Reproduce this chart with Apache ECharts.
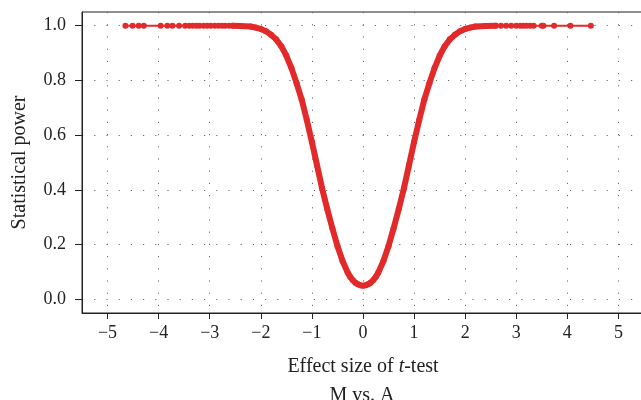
<!DOCTYPE html>
<html>
<head>
<meta charset="utf-8">
<script src="https://cdn.jsdelivr.net/npm/echarts@6/dist/echarts.min.js"></script>
<style>
html,body{margin:0;padding:0;background:#fff;}
#c{width:641px;height:400px;}
</style>
</head>
<body>
<div id="c"></div>
<script>
// Effect size (x) and statistical power (y)
const effectSize = [
  -4.65, -4.51, -4.39, -4.29, -3.96, -3.83, -3.73, -3.60, -3.48, -3.40, -3.33, -3.26, -3.20,
  -3.12, -3.05, -2.98, -2.90, -2.83, -2.76, -2.70, -2.62, -2.55, -2.40, -2.20, -2.10, -2.00,
  -1.90, -1.80, -1.70, -1.60, -1.50, -1.40, -1.30, -1.20, -1.10, -1.00, -0.90, -0.80, -0.70,
  -0.60, -0.50, -0.40, -0.30, -0.25, -0.20, -0.15, -0.10, -0.05, 0.00, 0.05, 0.10, 0.15, 0.20,
  0.25, 0.30, 0.40, 0.50, 0.60, 0.70, 0.80, 0.90, 1.00, 1.10, 1.20, 1.30, 1.40, 1.50, 1.60,
  1.70, 1.80, 1.90, 2.00, 2.10, 2.20, 2.40, 2.60, 2.70, 2.80, 2.90, 3.00, 3.08, 3.14, 3.20,
  3.27, 3.34, 3.50, 3.53, 3.74, 4.06, 4.46
];
const power = [
  1.000, 1.000, 1.000, 1.000, 1.000, 1.000, 1.000, 1.000, 1.000, 1.000, 1.000, 1.000, 1.000,
  1.000, 1.000, 1.000, 1.000, 1.000, 1.000, 1.000, 1.000, 1.000, 0.999, 0.997, 0.993, 0.988,
  0.980, 0.967, 0.950, 0.925, 0.890, 0.845, 0.790, 0.730, 0.655, 0.575, 0.490, 0.405, 0.330,
  0.260, 0.195, 0.140, 0.098, 0.082, 0.070, 0.061, 0.055, 0.051, 0.050, 0.051, 0.055, 0.061, 0.070,
  0.082, 0.098, 0.140, 0.195, 0.260, 0.330, 0.405, 0.490, 0.575, 0.655, 0.730, 0.790, 0.845, 0.890, 0.925,
  0.950, 0.967, 0.980, 0.988, 0.993, 0.997, 0.999, 1.000, 1.000, 1.000, 1.000, 1.000, 1.000, 1.000, 1.000,
  1.000, 1.000, 1.000, 1.000, 1.000, 1.000, 1.000
];
const xTicks = [-5, -4, -3, -2, -1, 0, 1, 2, 3, 4, 5];
const yTicks = [0, 0.2, 0.4, 0.6, 0.8, 1.0];

const allPts = effectSize.map((x, i) => [x, power[i]]);
const midPts = allPts.filter(p => p[0] >= -2.6 && p[0] <= 2.6);

const FONT = '"Liberation Serif", "DejaVu Serif", serif';
const RED = '#e22a2b';
const INK = '#222';
const dotted = { color: '#6a6a6a', width: 1, type: [1.2, 11] };

const chart = echarts.init(document.getElementById('c'), null, { renderer: 'canvas' });
chart.setOption({
  animation: false,
  backgroundColor: '#fff',
  grid: { left: 82, top: 12, width: 562, height: 301, outerBoundsMode: 'none', containLabel: false,
    show: true, borderColor: INK, borderWidth: 1, backgroundColor: 'transparent' },
  graphic: [{
    type: 'text', x: 362, y: 386,
    style: { text: 'M vs. A', fontFamily: FONT, fontSize: 20, fill: INK, textAlign: 'center', textVerticalAlign: 'top' }
  }],
  xAxis: {
    type: 'value', min: -5.5, max: 5.5, interval: 0.5,
    name: 'Effect size of {i|t}-test', nameLocation: 'middle', nameGap: 44,
    nameTextStyle: { fontFamily: FONT, fontSize: 20, color: INK,
      rich: { i: { fontFamily: FONT, fontSize: 20, fontStyle: 'italic', color: INK } } },
    axisLine: { show: true, onZero: false, lineStyle: { color: INK, width: 1 } },
    axisTick: { show: true, inside: false, length: 6, customValues: xTicks, lineStyle: { color: INK } },
    axisLabel: { customValues: xTicks, margin: 11, fontFamily: FONT, fontSize: 18, color: INK,
      formatter: v => (v < 0 ? '\u2212' + Math.abs(v) : String(v)) },
    splitLine: { show: true, lineStyle: dotted }
  },
  yAxis: {
    type: 'value', min: -0.05, max: 1.05, interval: 0.1,
    name: 'Statistical power', nameLocation: 'middle', nameGap: 52,
    nameTextStyle: { fontFamily: FONT, fontSize: 20, color: INK },
    axisLine: { show: true, onZero: false, lineStyle: { color: INK, width: 1 } },
    axisTick: { show: true, inside: false, length: 7, customValues: yTicks, lineStyle: { color: INK } },
    axisLabel: { customValues: yTicks, margin: 16, fontFamily: FONT, fontSize: 18, color: INK,
      formatter: v => v.toFixed(1) },
    splitLine: { show: true, lineStyle: dotted }
  },
  series: [
    {
      type: 'line', data: midPts, showSymbol: false, symbol: 'none',
      lineStyle: { color: RED, width: 6, join: 'round', cap: 'round' }, z: 3
    },
    {
      type: 'line', data: allPts, symbol: 'circle', symbolSize: 6, showSymbol: true,
      itemStyle: { color: RED }, lineStyle: { color: RED, width: 2 }, z: 4
    }
  ]
});
</script>
</body>
</html>
